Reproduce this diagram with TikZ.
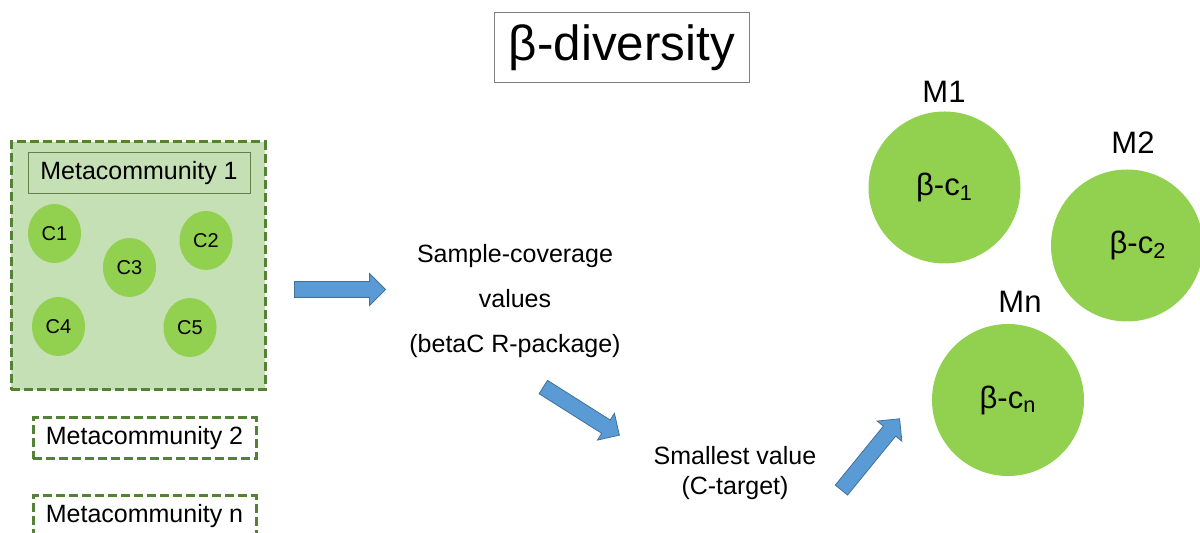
\documentclass[tikz,border=0pt]{standalone}
\usepackage{fontspec}
\setmainfont{Liberation Sans}
\usetikzlibrary{shapes.geometric,shapes.arrows}
\definecolor{leafgreen}{HTML}{92D050}
\definecolor{palegreen}{HTML}{C5E0B4}
\definecolor{dashgreen}{HTML}{548235}
\definecolor{arrowblue}{HTML}{5B9BD5}
\definecolor{arrowedge}{HTML}{41719C}
\begin{document}
\begin{tikzpicture}[
  x=0.5pt, y=-0.5pt,
  metabox/.style={draw=dashgreen, line width=1.5pt, dash pattern=on 4.5pt off 2pt,
    minimum width=111.5pt, minimum height=20.5pt, inner sep=0pt,
    font=\fontsize{12.5}{15}\selectfont},
  comm/.style={ellipse, fill=leafgreen, minimum width=26.5pt, minimum height=29.5pt,
    inner sep=0pt, font=\fontsize{10}{12}\selectfont},
  betac/.style={circle, fill=leafgreen, minimum size=76pt, inner sep=0pt,
    font=\fontsize{15.5}{18}\selectfont},
  mlab/.style={inner sep=0pt, font=\fontsize{15.5}{18}\selectfont},
  note/.style={align=center, inner sep=0pt, font=\fontsize{12.5}{15}\selectfont},
  blockarrow/.style={single arrow, fill=arrowblue, draw=arrowedge, line width=0.4pt,
    inner xsep=0pt, inner ysep=3.75pt, single arrow head extend=4pt}
]
  \useasboundingbox (0,0) rectangle (1200,533);
  \clip (0,0) rectangle (1200,533);
  % title
  \node[draw=gray, line width=0.5pt, minimum width=127.5pt, minimum height=35pt,
    font=\fontsize{24.7}{28}\selectfont] (title) at (622,48) {β-diversity};
  % metacommunities
  \node[metabox, fill=palegreen, minimum width=127pt, minimum height=124pt] (meta1) at (138,266) {};
  \node[draw=dashgreen!70!gray, line width=0.5pt, fill=palegreen, minimum width=111pt,
    minimum height=20.5pt, inner sep=0pt, font=\fontsize{12.5}{15}\selectfont] (meta1lab) at (139,173.5) {Metacommunity 1};
  \node[comm] (C1) at (54.5,233.5) {C1};
  \node[comm] (C2) at (206,240.5) {C2};
  \node[comm] (C3) at (129.5,267.5) {C3};
  \node[comm] (C4) at (58.5,326.5) {C4};
  \node[comm] (C5) at (190,327.5) {C5};
  \node[metabox] (meta2) at (144.5,438.5) {Metacommunity 2};
  \node[metabox] (metan) at (144.5,516.5) {Metacommunity n};
  % workflow
  \node[blockarrow, minimum height=45.5pt] (arrA) at (336,289.5) {};
  \node[note, text depth=0pt] (coverage) at (515,298)
    {Sample-coverage\\[7.5pt]values\\[7.5pt](betaC R-package)};
  \node[blockarrow, minimum height=45pt, rotate=-32.3] (arrB) at (578,409) {};
  \node[note] (target) at (735,473.5) {Smallest value\\(C-target)};
  \node[blockarrow, minimum height=46pt, rotate=50.8] (arrC) at (868,457.5) {};
  % beta-diversity per metacommunity
  \node[betac] (M1) at (944.5,187.5) {β-c\textsubscript{1}};
  \node[betac, label={[xshift=5.5pt, mlab]center:β-c\textsubscript{2}}] (M2) at (1127,245.5) {};
  \node[betac] (Mn) at (1008,400) {β-c\textsubscript{n}};
  \node[mlab] (M1lab) at (944,92) {M1};
  \node[mlab] (M2lab) at (1133,143) {M2};
  \node[mlab] (Mnlab) at (1020,302) {Mn};
\end{tikzpicture}
\end{document}
